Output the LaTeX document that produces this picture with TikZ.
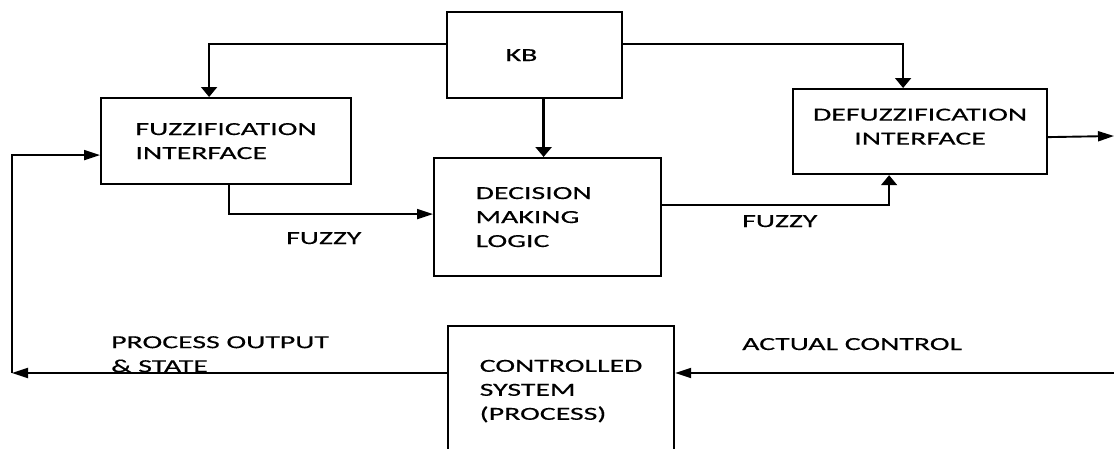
\documentclass[tikz,border=0pt]{standalone}
\usepackage{fontspec}
\setmainfont[FakeStretch=1.62,FakeBold=0.4]{Carlito}
\usetikzlibrary{arrows.meta,calc}
\begin{document}
\begin{tikzpicture}[x=1pt,y=-1pt,
  box/.style={draw=black,line width=2.2pt,inner sep=0pt,anchor=north west,font=\fontsize{18.4}{24}\selectfont},
  conn/.style={line width=1.9pt,draw=black},
  harr/.style={conn,-{Triangle[length=16pt,width=10pt]}},
  varr/.style={conn,-{Triangle[length=10pt,width=16pt]}},
  lbl/.style={inner sep=0pt,font=\fontsize{18.4}{24}\selectfont}]
\useasboundingbox (0,0) rectangle (1114,448);
\fill[white] (0,0) rectangle (1114,448);
\clip (0,0) rectangle (1114,448);
% boxes
\node[box,minimum width=175pt,minimum height=86pt,text width=58pt,align=left] (kb) at (446,11) {KB};
\node[box,minimum width=250pt,minimum height=86pt,align=left] (fuzz) at (100,97) {FUZZIFICATION\\INTERFACE};
\node[box,minimum width=227pt,minimum height=118pt,text width=144pt,align=left] (dec) at (433,157) {DECISION\\MAKING\\LOGIC};
\node[box,minimum width=254pt,minimum height=85pt,align=center,text depth=10pt] (defuzz) at (792,88) {DEFUZZIFICATION\\INTERFACE};
\node[box,minimum width=226pt,minimum height=130pt,align=left] (ctrl) at (447,325) {CONTROLLED\\SYSTEM\\(PROCESS)};
% free ends
\coordinate (out) at (1114,136);
\coordinate (in) at (1114,373);
\coordinate (fb) at (12,373);
% connectors
\draw[varr] ([yshift=11pt]kb.west) -| ([xshift=-17pt]fuzz.north);
\draw[varr,line width=2.4pt] ([xshift=9pt]kb.south) -- ([xshift=9pt]kb.south |- dec.north);
\draw[varr] ([yshift=11pt]kb.east) -| ([xshift=-17pt]defuzz.north);
\draw[harr] ([xshift=3pt]fuzz.south) |- ([yshift=3pt]dec.west);
\draw[varr] ([yshift=12pt]dec.east) -| ([xshift=-31pt]defuzz.south);
\draw[harr] ([yshift=-5.5pt]defuzz.east) -- (out);
\draw[harr] (in) -- (in -| ctrl.east);
\draw[harr] (ctrl.west |- in) -- (fb);
\draw[harr] (fb) |- ([yshift=-14pt]fuzz.west);
% labels
\node[lbl,anchor=base west] (fz1) at (286,244) {FUZZY};
\node[lbl,anchor=base west] (fz2) at (742,227) {FUZZY};
\node[lbl,anchor=base west] (ac) at (742,350) {ACTUAL CONTROL};
\node[lbl,anchor=north west,align=left] (po) at (111,336) {PROCESS OUTPUT\\\& STATE};
\end{tikzpicture}
\end{document}
